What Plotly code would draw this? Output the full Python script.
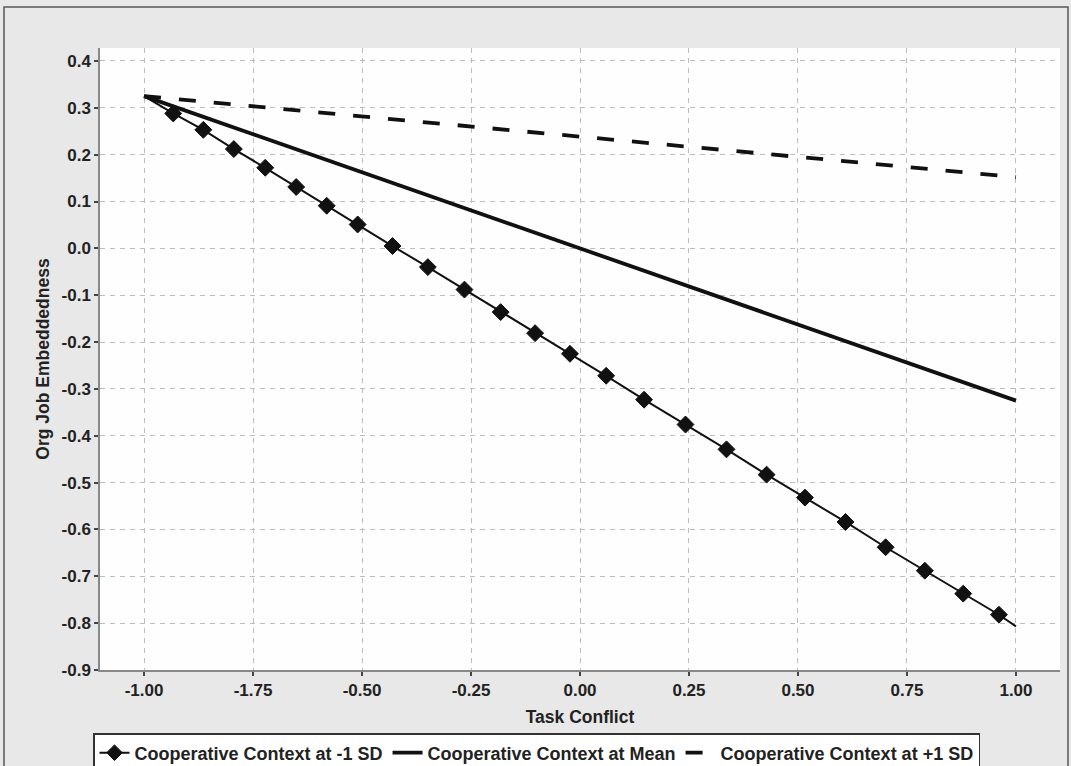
import plotly.graph_objects as go

# ---- data ----
x_low = [-1.0, -0.933, -0.864, -0.794, -0.722, -0.651, -0.581, -0.510, -0.430, -0.349,
         -0.265, -0.182, -0.103, -0.023, 0.060, 0.147, 0.242, 0.336, 0.428, 0.516,
         0.609, 0.701, 0.791, 0.879, 0.961, 1.0]
y_low = [0.325, 0.288, 0.253, 0.212, 0.172, 0.131, 0.091, 0.051, 0.005, -0.040,
         -0.088, -0.136, -0.181, -0.225, -0.272, -0.323, -0.376, -0.429, -0.483, -0.532,
         -0.584, -0.638, -0.688, -0.737, -0.782, -0.807]
x_mean = [-1.0, 0.0, 1.0]
y_mean = [0.325, 0.0, -0.325]
x_high = [-1.0, 1.0]
y_high = [0.325, 0.152]

series_names = ["Cooperative Context at -1 SD",
                "Cooperative Context at Mean",
                "Cooperative Context at +1 SD"]

x_tickvals = [-1.0, -0.75, -0.5, -0.25, 0.0, 0.25, 0.5, 0.75, 1.0]
x_ticktext = ["-1.00", "-1.75", "-0.50", "-0.25", "0.00", "0.25", "0.50", "0.75", "1.00"]
y_tickvals = [0.4, 0.3, 0.2, 0.1, 0.0, -0.1, -0.2, -0.3, -0.4, -0.5, -0.6, -0.7, -0.8, -0.9]
y_ticktext = ["0.4", "0.3", "0.2", "0.1", "0.0", "-0.1", "-0.2", "-0.3", "-0.4", "-0.5",
              "-0.6", "-0.7", "-0.8", "-0.9"]

FONT = "Liberation Sans, Arial, sans-serif"
INK = "#222222"

marker_sizes = [0] + [13] * (len(x_low) - 2) + [0]

fig = go.Figure()
fig.add_trace(go.Scatter(
    x=x_low, y=y_low, mode="lines+markers", name=series_names[0],
    line=dict(color="#111111", width=2),
    marker=dict(symbol="diamond", size=marker_sizes, color="#111111", opacity=1,
                line=dict(color="#111111", width=1)),
))
fig.add_trace(go.Scatter(
    x=x_mean, y=y_mean, mode="lines", name=series_names[1],
    line=dict(color="#111111", width=3.8),
))
fig.add_trace(go.Scatter(
    x=x_high, y=y_high, mode="lines", name=series_names[2],
    line=dict(color="#111111", width=3.8, dash="17px,18px"),
))

W, H = 1071, 766
L, R, T, B = 100, 11, 48, 96
pw, ph = W - L - R, H - T - B

def px(x):
    return (x - L) / pw

def py(y):
    return (H - B - y) / ph

fig.update_layout(
    width=W, height=H,
    margin=dict(l=L, r=R, t=T, b=B, autoexpand=False),
    paper_bgcolor="#e8e8e8",
    plot_bgcolor="#fefefe",
    font=dict(family=FONT, color=INK, size=17, weight="bold"),
    showlegend=True,
    legend=dict(
        orientation="h",
        x=px(93), xanchor="left",
        y=py(733), yanchor="top",
        bgcolor="#ffffff",
        bordercolor="#333333", borderwidth=1.5,
        font=dict(family=FONT, size=18, color=INK, weight="bold"),
        itemwidth=30,
        tracegroupgap=0,
    ),
    shapes=[dict(type="rect", xref="paper", yref="paper",
                 x0=px(4), x1=px(1068), y0=py(775), y1=py(7),
                 line=dict(color="#555555", width=1.5), fillcolor="rgba(0,0,0,0)",
                 layer="below")],
)

fig.update_xaxes(
    range=[-1.101, 1.101],
    tickvals=x_tickvals, ticktext=x_ticktext,
    showgrid=True, gridcolor="#bdbdbd", griddash="5px,5px", gridwidth=1,
    zeroline=False,
    showline=True, linecolor="#888888", linewidth=1.5,
    ticks="outside", ticklen=4, tickcolor="#444444", tickwidth=1.5,
    tickfont=dict(family=FONT, size=17, color=INK, weight="bold"),
    title=dict(text="Task Conflict", standoff=12,
               font=dict(family=FONT, size=17.5, color=INK, weight="bold")),
)
fig.update_yaxes(
    range=[-0.9, 0.4277],
    tickvals=y_tickvals, ticktext=y_ticktext,
    showgrid=True, gridcolor="#bdbdbd", griddash="5px,5px", gridwidth=1,
    zeroline=False,
    showline=True, linecolor="#888888", linewidth=1.5,
    ticks="outside", ticklen=4, tickcolor="#444444", tickwidth=1.5,
    tickfont=dict(family=FONT, size=17, color=INK, weight="bold"),
    title=dict(text="Org Job Embeddedness", standoff=7,
               font=dict(family=FONT, size=17.5, color=INK, weight="bold")),
)

fig.write_html("out.html")
